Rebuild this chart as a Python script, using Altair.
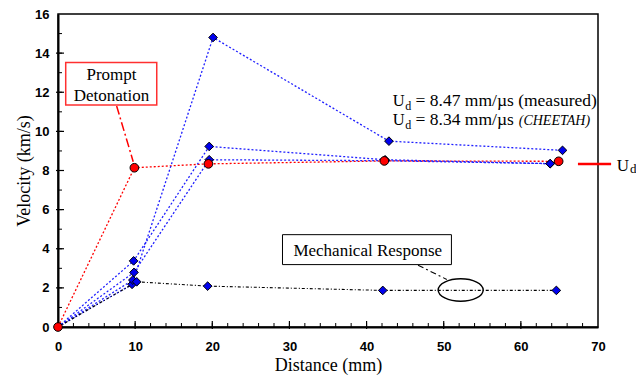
import altair as alt
import pandas as pd

# ---------------- data ----------------
red_x = [0, 9.9, 19.5, 42.3, 64.9]
red_y = [0, 8.14, 8.34, 8.49, 8.47]

blue_A_x = [0, 9.6, 20.1, 42.9, 65.4]
blue_A_y = [0, 2.18, 14.8, 9.5, 9.03]
blue_B_x = [0, 9.8, 19.6, 42.4, 63.8]
blue_B_y = [0, 3.38, 9.23, 8.55, 8.35]
blue_C_x = [0, 9.85, 19.6, 42.4, 63.8]
blue_C_y = [0, 2.79, 8.55, 8.5, 8.35]
blue_D_x = [0, 9.7]
blue_D_y = [0, 2.40]

mech_x = [0, 10.2, 19.4, 42.1, 64.6]
mech_y = [0, 2.31, 2.09, 1.87, 1.87]

x_ticks = [0, 10, 20, 30, 40, 50, 60, 70]
y_ticks = [0, 2, 4, 6, 8, 10, 12, 14, 16]
x_minor = list(range(2, 70, 2))
y_minor = list(range(1, 16, 1))

# ---------------- tables ----------------
red_df = pd.DataFrame({"x": red_x, "y": red_y, "i": range(len(red_x))})
blue_rows = []
for name, xs, ys in [("A", blue_A_x, blue_A_y), ("B", blue_B_x, blue_B_y),
                     ("C", blue_C_x, blue_C_y), ("D", blue_D_x, blue_D_y)]:
    for i, (a, b) in enumerate(zip(xs, ys)):
        blue_rows.append({"s": name, "x": a, "y": b, "i": i})
blue_df = pd.DataFrame(blue_rows)
mech_df = pd.DataFrame({"x": mech_x, "y": mech_y, "i": range(len(mech_x))})
one = pd.DataFrame({"k": [0]})

SERIF = "Liberation Serif"
SANS = "Liberation Sans"
W, H = 540, 313

xscale = alt.Scale(domain=[0, 70], nice=False, zero=False)
yscale = alt.Scale(domain=[0, 16], nice=False, zero=False)

x_axis = alt.Axis(values=x_ticks, title="Distance (mm)", grid=False, ticks=False, labelFlush=False,
                  domainColor="black", domainWidth=2, labelFont=SANS, labelFontWeight="bold",
                  labelFontSize=13, labelColor="black", labelPadding=13,
                  titleFont=SERIF, titleFontSize=18, titleFontWeight="normal",
                  titleColor="black", titlePadding=3)
y_axis = alt.Axis(values=y_ticks, title="Velocity (km/s)", grid=False, ticks=False, labelFlush=False,
                  domainColor="black", domainWidth=2, labelFont=SANS, labelFontWeight="bold",
                  labelFontSize=13, labelColor="black", labelPadding=9,
                  titleFont=SERIF, titleFontSize=18, titleFontWeight="normal",
                  titleColor="black", titlePadding=1)


def X(v):
    return alt.X(datum=v, scale=xscale, axis=x_axis)


def Y(v):
    return alt.Y(datum=v, scale=yscale, axis=y_axis)


def XF(f):
    return alt.X(f, scale=xscale, axis=x_axis)


def YF(f):
    return alt.Y(f, scale=yscale, axis=y_axis)


red_line = alt.Chart(red_df).mark_line(color="#ff0000", strokeDash=[2, 2], strokeWidth=1.3).encode(
    x=XF("x:Q"), y=YF("y:Q"), order="i:Q")
blue_line = alt.Chart(blue_df).mark_line(color="#2020ff", strokeDash=[2, 2], strokeWidth=1.3).encode(
    x=XF("x:Q"), y=YF("y:Q"), detail="s:N", order="i:Q")
mech_line = alt.Chart(mech_df).mark_line(color="black", strokeDash=[3, 2, 1, 2], strokeWidth=1.1).encode(
    x=XF("x:Q"), y=YF("y:Q"), order="i:Q")

blue_pts = alt.Chart(blue_df[blue_df.x > 0]).mark_point(
    shape="diamond", filled=True, fill="#0000ee", stroke="black", strokeWidth=1, size=75, opacity=1
).encode(x=XF("x:Q"), y=YF("y:Q"))
mech_pts = alt.Chart(mech_df[mech_df.x > 0]).mark_point(
    shape="diamond", filled=True, fill="#0000ee", stroke="black", strokeWidth=1, size=75, opacity=1
).encode(x=XF("x:Q"), y=YF("y:Q"))
red_pts = alt.Chart(red_df).mark_point(
    shape="circle", filled=True, fill="#ff0000", stroke="black", strokeWidth=1, size=75, opacity=1
).encode(x=XF("x:Q"), y=YF("y:Q"))

# custom inward ticks
xt_minor = alt.Chart(pd.DataFrame({"v": x_minor})).mark_rule(color="black", strokeWidth=1).encode(
    x=XF("v:Q"), y=alt.value(H), y2=alt.value(H - 4))
xt_major = alt.Chart(pd.DataFrame({"v": x_ticks[1:-1]})).mark_rule(color="black", strokeWidth=1.2).encode(
    x=XF("v:Q"), y=alt.value(H + 2), y2=alt.value(H - 6))
yt_minor = alt.Chart(pd.DataFrame({"v": y_minor})).mark_rule(color="black", strokeWidth=1).encode(
    y=YF("v:Q"), x=alt.value(0), x2=alt.value(4))
yt_major = alt.Chart(pd.DataFrame({"v": y_ticks[1:-1]})).mark_rule(color="black", strokeWidth=1.2).encode(
    y=YF("v:Q"), x=alt.value(-2), x2=alt.value(6))


def txt(text, x, y, size=17, align="left", style="normal", font=SERIF):
    return alt.Chart(one).mark_text(
        text=text, font=font, fontSize=size, align=align, baseline="alphabetic",
        fontStyle=style, color="black", clip=False
    ).encode(x=X(x), y=Y(y))


def seg(x1, y1, x2, y2, color, dash, width=1.3):
    return alt.Chart(one).mark_rule(color=color, strokeDash=dash, strokeWidth=width, clip=False).encode(
        x=X(x1), y=Y(y1), x2=alt.X2(datum=x2), y2=alt.Y2(datum=y2))


def box(x1, y1, x2, y2, color, width):
    return alt.Chart(one).mark_rect(fill="white", stroke=color, strokeWidth=width).encode(
        x=X(x1), y=Y(y1), x2=alt.X2(datum=x2), y2=alt.Y2(datum=y2))


# Prompt detonation callout
prompt_box = box(1.0, 11.35, 12.8, 13.52, "#ff3030", 1.5)
prompt_t1 = txt("Prompt", 6.94, 12.65, align="center")
prompt_t2 = txt("Detonation", 6.94, 11.57, align="center")
prompt_lead = seg(7.6, 11.3, 9.75, 8.45, "#ff0000", [9, 3, 2, 3], 1.5)

# Mechanical response callout
mech_box = box(29.1, 3.19, 51.0, 4.72, "black", 1)
mech_t = txt("Mechanical Response", 40.15, 3.65, align="center")
mech_lead = seg(46.67, 3.16, 50.4, 2.43, "black", [6, 3, 2, 3], 1.1)
ellipse = alt.Chart(one).mark_point(
    shape="M -1 0 A 1 0.5 0 1 1 1 0 A 1 0.5 0 1 1 -1 0 Z",
    size=2025, filled=False, stroke="black", strokeWidth=1.4, opacity=1
).encode(x=X(52.2), y=Y(1.89))

# Ud text
u1 = txt("U", 43.39, 11.3, size=16.5)
d1 = txt("d", 45.0, 11.1, size=12)
r1 = txt("= 8.47 mm/\u00b5s (measured)", 46.35, 11.3, size=17.5)
u2 = txt("U", 43.39, 10.33, size=16.5)
d2 = txt("d", 45.0, 10.13, size=12)
r2 = txt("= 8.34 mm/\u00b5s", 46.35, 10.33, size=17.5)
r2b = txt("(CHEETAH)", 68.97, 10.33, size=14, align="right", style="italic")

# Ud marker outside frame
ud_line = seg(67.4, 8.33, 71.7, 8.33, "#ff0000", [1, 0], 2.5)
ud_u = txt("U", 72.42, 7.95, size=17)
ud_d = txt("d", 74.15, 7.85, size=13)

chart = alt.layer(
    red_line, blue_line, mech_line,
    xt_minor, xt_major, yt_minor, yt_major,
    prompt_lead, mech_lead, prompt_box, prompt_t1, prompt_t2,
    mech_box, mech_t, ellipse,
    blue_pts, mech_pts, red_pts,
    u1, d1, r1, u2, d2, r2, r2b,
    ud_line, ud_u, ud_d,
).properties(
    width=W, height=H,
    autosize=alt.AutoSizeParams(type="none"),
    padding={"left": 50, "top": 6, "right": 38, "bottom": 49},
    background="white",
).configure_view(stroke="black", strokeWidth=1.5)

chart.save("out.html", embed_options={"renderer": "svg", "actions": False})
